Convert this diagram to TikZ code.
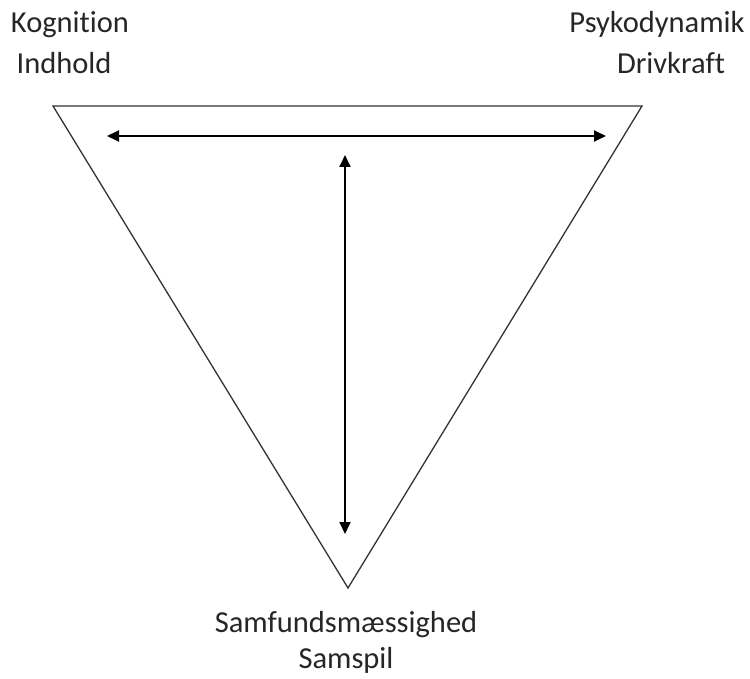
\documentclass[tikz,border=0pt]{standalone}
\usepackage{fontspec}
\setmainfont{Carlito}[Ligatures={NoCommon}]
\usetikzlibrary{arrows.meta}
\begin{document}
\begin{tikzpicture}[x=1pt,y=-1pt,
  lbl/.style={anchor=base,inner sep=0pt,font=\fontsize{30.5}{32}\selectfont,text=black!85},
  tri/.style={draw=black!80,line width=1.3pt,line join=miter},
  arr/.style={draw=black,line width=1.8pt,{Triangle[length=12pt,width=11pt]}-{Triangle[length=12pt,width=11pt]}}]
\useasboundingbox (0,0) rectangle (750,679);
\coordinate (tl) at (53,106);
\coordinate (tr) at (642,106);
\coordinate (bt) at (348,588);
\draw[tri] (tl) -- (tr) -- (bt) -- cycle;
\coordinate (hl) at (107,136);
\coordinate (hr) at (606,136);
\coordinate (vt) at (345,155);
\coordinate (vb) at (345,534);
\draw[arr] (hl) -- (hr);
\draw[arr] (vt) -- (vb);
\node[lbl] (k) at (70,33) {Kognition};
\node[lbl] (i) at (64,74) {Indhold};
\node[lbl] (p) at (657,33) {Psykodynamik};
\node[lbl] (d) at (671,74) {Drivkraft};
\node[lbl] (s) at (346,632) {Samfundsmæssighed};
\node[lbl] (sp) at (346,668) {Samspil};
\end{tikzpicture}
\end{document}
